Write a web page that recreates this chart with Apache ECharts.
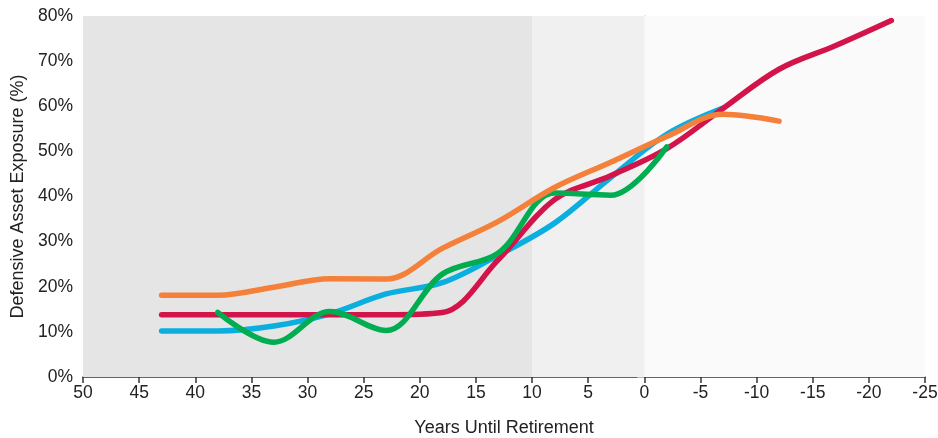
<!DOCTYPE html>
<html><head><meta charset="utf-8">
<script src="https://cdn.jsdelivr.net/npm/echarts@6/dist/echarts.min.js"></script>
<style>html,body{margin:0;padding:0;background:#fff}#c{width:938px;height:438px}</style>
</head><body><div id="c"></div>
<script>
var xTicks = [50,45,40,35,30,25,20,15,10,5,0,-5,-10,-15,-20,-25];
var yTicks = [0,10,20,30,40,50,60,70,80];
var orangeX = [43,38,33,28,23,18,13,8,3,-2,-7,-12];
var orangeY = [18.1,18.1,19.9,21.8,21.7,28.5,34.5,42.0,47.6,53.3,58.2,56.7];
var redX = [43,38,33,28,23,18,13,8,3,-2,-7,-12,-17,-22];
var redY = [13.8,13.8,13.8,13.8,13.8,14.3,26.0,39.3,44.6,50.6,59.5,68.2,73.4,79.0];
var blueX = [43,38,33,28,23,18,13,8,3,-2,-7];
var blueY = [10.2,10.2,11.3,14.0,18.4,20.9,27.0,34.1,44.2,53.8,59.6];
var greenX = [38,33,28,23,18,13,8,3,-2];
var greenY = [14.3,7.7,14.5,10.3,22.8,27.5,40.8,40.3,51.0];

function pairs(xs, ys){ return xs.map(function(x,i){return [x, ys[i]];}); }

var chart = echarts.init(document.getElementById('c'), null, {renderer:'canvas'});
var font = 'Liberation Sans, Arial, sans-serif';
function line(name, xs, ys, color, extra){
  var s = {name:name, type:'line', data:pairs(xs,ys), smooth:0.35, symbol:'none',
    lineStyle:{color:color, width:5.5, cap:'round', join:'round'}, silent:true, animation:false};
  if (extra) for (var k in extra) s[k]=extra[k];
  return s;
}
chart.setOption({
  animation:false,
  grid:{left:83, right:13, top:16, bottom:61, containLabel:false, outerBoundsMode:'none'},
  xAxis:{type:'value', min:-25, max:50, interval:5, inverse:true,
    name:'Years Until Retirement', nameLocation:'middle', nameGap:42,
    nameTextStyle:{fontFamily:font, fontSize:18, color:'#222'},
    axisLine:{show:true, lineStyle:{color:'#333', width:1.5}},
    axisTick:{show:true, length:6, lineStyle:{color:'#333', width:1.5}},
    axisLabel:{fontFamily:font, fontSize:17.5, color:'#222', margin:7},
    splitLine:{show:false}},
  yAxis:{type:'value', min:0, max:80, interval:10,
    name:'Defensive Asset Exposure (%)', nameLocation:'middle', nameGap:56,
    nameTextStyle:{fontFamily:font, fontSize:18, color:'#222'},
    axisLine:{show:true, lineStyle:{color:'#c8c8c8', width:1.5}},
    axisTick:{show:true, length:7, lineStyle:{color:'#bbb'}},
    axisLabel:{fontFamily:font, fontSize:17.5, color:'#222', margin:10, formatter:'{value}%'},
    splitLine:{show:false}},
  series:[
    line('blue', blueX, blueY, '#0aafe0', {
      markArea:{silent:true, data:[
        [{xAxis:50, yAxis:0, itemStyle:{color:'#fafafa'}},{xAxis:-25, yAxis:80}],
        [{xAxis:50, yAxis:0, itemStyle:{color:'#f0f0f0'}},{xAxis:0, yAxis:80}],
        [{xAxis:50, yAxis:0, itemStyle:{color:'#e5e5e5'}},{xAxis:10, yAxis:80}]
      ]}}),
    line('red', redX, redY, '#d2144a'),
    line('green', greenX, greenY, '#00ad50'),
    line('orange', orangeX, orangeY, '#f4803a')
  ]
});
</script></body></html>
